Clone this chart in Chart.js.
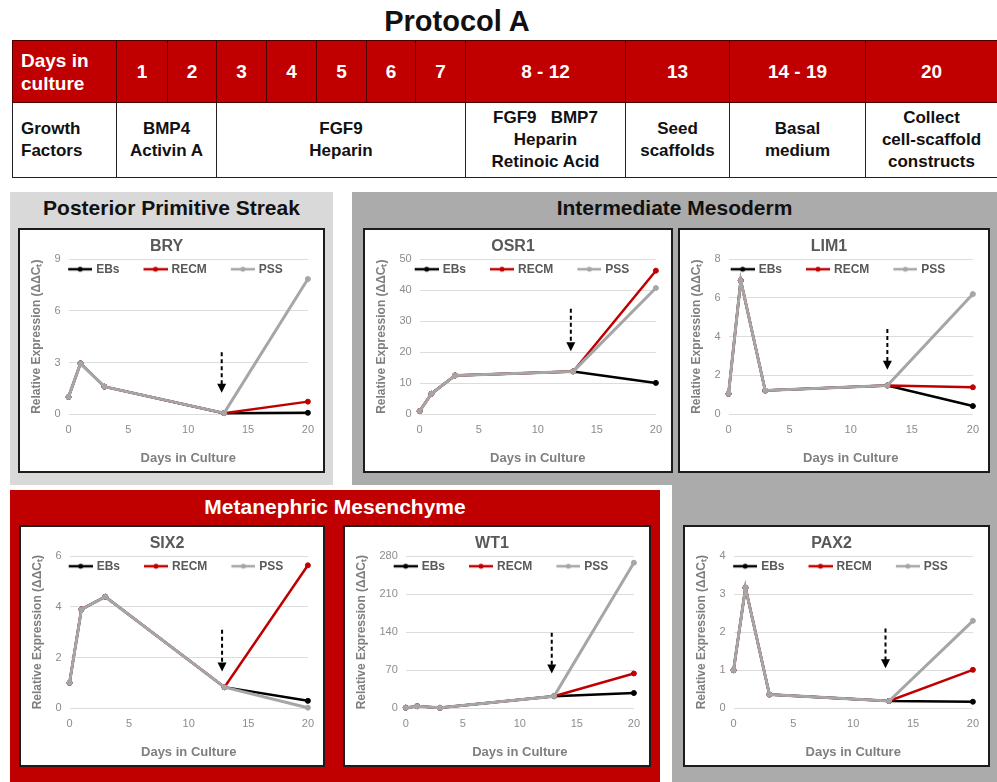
<!DOCTYPE html>
<html lang="en">
<head>
  <meta charset="UTF-8">
  <meta name="viewport" content="width=device-width, initial-scale=1.0">
  <title>Protocol A</title>
  <script src="https://cdn.jsdelivr.net/npm/chart.js"></script>
  <style>
    body {
      margin: 0;
      width: 997px;
      height: 782px;
      position: relative;
      overflow: hidden;
      background: #fff;
      font-family: 'Liberation Sans', Arial, sans-serif;
      color: #111;
    }

    h1 {
      position: absolute;
      top: 4px;
      left: 300px;
      width: 314px;
      margin: 0;
      text-align: center;
      font-size: 29px;
      line-height: 34px;
    }

    table {
      position: absolute;
      left: 12px;
      top: 40px;
      width: 985px;
      border-collapse: collapse;
      table-layout: fixed;
    }

    td {
      border: 1px solid #222;
      font-weight: bold;
      text-align: center;
      padding: 0;
    }

    tr.days td {
      background: #c00000;
      color: #fff;
      font-size: 19px;
      line-height: 23px;
      height: 61px;
      border-color: #4a0000;
    }

    tr.factors td {
      font-size: 17px;
      line-height: 22px;
      height: 74px;
    }

    td.first {
      text-align: left;
      padding-left: 8px;
    }

    .panel { position: absolute; }

    .panel h2 {
      position: absolute;
      left: 0;
      right: 0;
      margin: 0;
      text-align: center;
      font-size: 21px;
      line-height: 24px;
    }

    .box {
      position: absolute;
      box-sizing: border-box;
      border: 2px solid #1c1c1c;
      background: #fff;
    }
  </style>
</head>
<body>

<h1>Protocol A</h1>

<table>
  <colgroup>
    <col style="width:104px"><col style="width:51px"><col style="width:49px"><col style="width:50px">
    <col style="width:50px"><col style="width:50px"><col style="width:49px"><col style="width:50px">
    <col style="width:160px"><col style="width:104px"><col style="width:136px"><col style="width:132px">
  </colgroup>
  <tr class="days">
    <td class="first">Days in<br>culture</td>
    <td>1</td><td>2</td><td>3</td><td>4</td><td>5</td><td>6</td><td>7</td>
    <td>8 - 12</td><td>13</td><td>14 - 19</td><td>20</td>
  </tr>
  <tr class="factors">
    <td class="first">Growth<br>Factors</td>
    <td colspan="2">BMP4<br>Activin A</td>
    <td colspan="5">FGF9<br>Heparin</td>
    <td>FGF9&nbsp;&nbsp;&nbsp;BMP7<br>Heparin<br>Retinoic Acid</td>
    <td>Seed<br>scaffolds</td>
    <td>Basal<br>medium</td>
    <td>Collect<br>cell-scaffold<br>constructs</td>
  </tr>
</table>

<div class="panel" style="left:10px;top:192px;width:323px;height:293px;background:#d9d9d9;">
  <h2 style="top:4px;">Posterior Primitive Streak</h2>
</div>
<div class="panel" style="left:352px;top:192px;width:645px;height:293px;background:#ababab;">
  <h2 style="top:4px;">Intermediate Mesoderm</h2>
</div>
<div class="panel" style="left:672px;top:485px;width:325px;height:297px;background:#ababab;"></div>
<div class="panel" style="left:10px;top:490px;width:650px;height:292px;background:#c00000;">
  <h2 style="top:5px;color:#fff;">Metanephric Mesenchyme</h2>
</div>

<div class="box" style="left:18px;top:228px;width:307px;height:245px;"><canvas id="c0"></canvas></div>
<div class="box" style="left:363px;top:228px;width:310px;height:245px;"><canvas id="c1"></canvas></div>
<div class="box" style="left:678px;top:228px;width:312px;height:245px;"><canvas id="c2"></canvas></div>
<div class="box" style="left:19px;top:525px;width:306px;height:242px;"><canvas id="c3"></canvas></div>
<div class="box" style="left:343px;top:525px;width:308px;height:242px;"><canvas id="c4"></canvas></div>
<div class="box" style="left:683px;top:525px;width:307px;height:242px;"><canvas id="c5"></canvas></div>

<script>
  // sampling days, shared by every gene
  const days = [0, 1, 3, 13, 20];

  const bryEBs   = [1.0, 2.95, 1.6, 0.06, 0.08];
  const bryRECM  = [1.0, 2.95, 1.6, 0.06, 0.73];
  const bryPSS   = [1.0, 2.95, 1.6, 0.06, 7.85];

  const osr1EBs  = [1.0, 6.6, 12.5, 13.8, 10.1];
  const osr1RECM = [1.0, 6.6, 12.5, 13.8, 46.3];
  const osr1PSS  = [1.0, 6.6, 12.5, 13.8, 40.7];

  const lim1EBs  = [1.05, 6.9, 1.22, 1.48, 0.42];
  const lim1RECM = [1.05, 6.9, 1.22, 1.48, 1.39];
  const lim1PSS  = [1.05, 6.9, 1.22, 1.48, 6.2];

  const six2EBs  = [1.0, 3.9, 4.4, 0.83, 0.29];
  const six2RECM = [1.0, 3.9, 4.4, 0.83, 5.64];
  const six2PSS  = [1.0, 3.9, 4.4, 0.83, 0.02];

  const wt1EBs   = [1, 3.6, 0.8, 22, 28];
  const wt1RECM  = [1, 3.6, 0.8, 22, 64];
  const wt1PSS   = [1, 3.6, 0.8, 22, 268];

  const pax2EBs  = [1.0, 3.17, 0.36, 0.19, 0.17];
  const pax2RECM = [1.0, 3.17, 0.36, 0.19, 1.01];
  const pax2PSS  = [1.0, 3.17, 0.36, 0.19, 2.3];

  const genes = ['BRY', 'OSR1', 'LIM1', 'SIX2', 'WT1', 'PAX2'];
  const yMax  = [9, 50, 8, 6, 280, 4];
  const yStep = [3, 10, 2, 2, 70, 1];

  // dashed arrow marking scaffold seeding: day, value at tail, value at tip
  const arrowDay  = [12.8, 12.8, 13.0, 12.8, 12.8, 12.7];
  const arrowFrom = [3.6, 34, 4.4, 3.1, 139, 2.1];
  const arrowTo   = [1.25, 20.3, 2.3, 1.45, 64, 1.05];

  const seriesNames  = ['EBs', 'RECM', 'PSS'];
  const seriesColors = ['#000000', '#c00000', '#a6a6a6'];
  const seriesWidths = [2.5, 2.5, 3];

  const geneSeries = [
    [bryEBs, bryRECM, bryPSS],
    [osr1EBs, osr1RECM, osr1PSS],
    [lim1EBs, lim1RECM, lim1PSS],
    [six2EBs, six2RECM, six2PSS],
    [wt1EBs, wt1RECM, wt1PSS],
    [pax2EBs, pax2RECM, pax2PSS]
  ];

  Chart.defaults.font.family = "'Liberation Sans', Arial, sans-serif";

  // little "line with a dot" swatch like the Excel legend
  function lineMarker(color) {
    const c = document.createElement('canvas');
    c.width = 44;
    c.height = 8;
    const g = c.getContext('2d');
    g.strokeStyle = color;
    g.lineWidth = 2.5;
    g.beginPath();
    g.moveTo(20, 4);
    g.lineTo(44, 4);
    g.stroke();
    g.fillStyle = color;
    g.beginPath();
    g.arc(32, 4, 2.5, 0, Math.PI * 2);
    g.fill();
    return c;
  }
  const markers = seriesColors.map(lineMarker);

  const arrowPlugin = {
    id: 'arrow',
    afterDatasetsDraw(chart, args, opts) {
      const { ctx, scales: { x, y } } = chart;
      const px = x.getPixelForValue(opts.day);
      const yTail = y.getPixelForValue(opts.from);
      const yTip = y.getPixelForValue(opts.to);
      ctx.save();
      ctx.strokeStyle = '#000';
      ctx.fillStyle = '#000';
      ctx.lineWidth = 2;
      ctx.setLineDash([4, 3]);
      ctx.beginPath();
      ctx.moveTo(px, yTail);
      ctx.lineTo(px, yTip - 8);
      ctx.stroke();
      ctx.setLineDash([]);
      ctx.beginPath();
      ctx.moveTo(px - 4.5, yTip - 9);
      ctx.lineTo(px + 4.5, yTip - 9);
      ctx.lineTo(px, yTip);
      ctx.closePath();
      ctx.fill();
      ctx.restore();
    }
  };

  // Excel puts the legend inside the plot area, so let it overlap the top of the chart area
  const legendInPlot = {
    id: 'legendInPlot',
    beforeLayout(chart) {
      const lg = chart.legend;
      if (!lg || lg._inPlot) return;
      const fit = lg.fit;
      const draw = lg.draw;
      lg.fit = function () { fit.call(this); this.height = 2; };
      lg.draw = function () {
        if (typeof this._draw !== 'function') return draw.call(this);
        if (this.options.display) this._draw();
      };
      lg._inPlot = true;
    }
  };

  function makeChart(i) {
    const values = geneSeries[i];
    new Chart(document.getElementById('c' + i), {
      type: 'line',
      data: {
        datasets: values.map((v, k) => ({
          label: seriesNames[k],
          data: days.map((d, j) => ({ x: d, y: v[j] })),
          borderColor: seriesColors[k],
          backgroundColor: seriesColors[k],
          pointBackgroundColor: seriesColors[k],
          pointBorderColor: seriesColors[k],
          borderWidth: seriesWidths[k],
          pointRadius: 2.5,
          pointBorderWidth: 1,
          pointHoverRadius: 2.5,
          tension: 0,
          order: 2 - k, // PSS drawn on top where the series overlap
          clip: 6
        }))
      },
      options: {
        responsive: true,
        maintainAspectRatio: false,
        animation: false,
        layout: { padding: { left: 4, right: 14, top: 0, bottom: 0 } },
        scales: {
          x: {
            type: 'linear',
            min: 0,
            max: 20,
            ticks: { stepSize: 5, color: '#8c8c8c', font: { size: 11 }, padding: 9 },
            grid: { display: false, drawTicks: false },
            border: { display: false },
            title: {
              display: true,
              text: 'Days in Culture',
              color: '#7f7f7f',
              font: { size: 13, weight: 'bold' },
              padding: { top: 5, bottom: 5 }
            }
          },
          y: {
            min: 0,
            max: yMax[i],
            ticks: { stepSize: yStep[i], color: '#8c8c8c', font: { size: 11 }, padding: 8 },
            grid: { color: '#dcdcdc', drawTicks: false },
            border: { display: false },
            title: {
              display: true,
              text: 'Relative Expression (ΔΔCₜ)',
              color: '#7f7f7f',
              font: { size: 12, weight: 'bold' },
              padding: { top: 5, bottom: 3 }
            }
          }
        },
        plugins: {
          title: {
            display: true,
            text: genes[i],
            color: '#595959',
            font: { size: 16, weight: 'bold' },
            padding: { top: 7, bottom: 1 }
          },
          legend: {
            position: 'top',
            align: 'center',
            labels: {
              usePointStyle: true,
              pointStyleWidth: 40,
              padding: 6,
              color: '#595959',
              font: { size: 12, weight: 'bold' },
              generateLabels: chart => chart.data.datasets.map((ds, k) => ({
                text: ds.label,
                pointStyle: markers[k],
                fontColor: '#595959',
                fillStyle: 'transparent',
                strokeStyle: 'transparent',
                lineWidth: 0,
                hidden: false,
                datasetIndex: k
              }))
            }
          },
          tooltip: { enabled: false },
          arrow: { day: arrowDay[i], from: arrowFrom[i], to: arrowTo[i] }
        }
      },
      plugins: [arrowPlugin, legendInPlot]
    });
  }

  genes.forEach((g, i) => makeChart(i));
</script>

</body>
</html>
